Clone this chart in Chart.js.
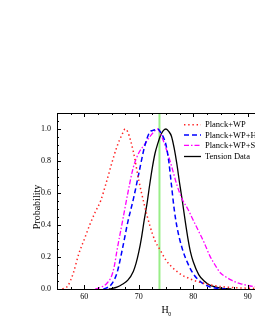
<!DOCTYPE html>
<html><head><meta charset="utf-8">
<script src="https://cdn.jsdelivr.net/npm/chart.js@4"></script>
<style>html,body{margin:0;padding:0;background:#fff;overflow:hidden}#wrap{width:255px;height:330px;overflow:hidden;position:relative}canvas{display:block}</style>
</head><body><div id="wrap"><canvas id="c" width="300" height="330"></canvas></div>
<script>
const seriesNames = ["Planck+WP", "Planck+WP+HST", "Planck+WP+SNLS", "Tension Data"];

const wpH0 = [56, 57, 58, 59, 60, 61, 62, 63, 64, 65, 66, 67, 67.5, 68, 69, 70, 71, 72, 73, 74, 75, 76, 77, 78, 79, 80, 82, 84, 86, 88, 90, 92, 95];
const wpP  = [0, 0.02, 0.1, 0.22, 0.31, 0.4, 0.48, 0.55, 0.66, 0.78, 0.89, 0.97, 1.0, 0.98, 0.86, 0.68, 0.53, 0.4, 0.3, 0.24, 0.18, 0.14, 0.11, 0.085, 0.07, 0.055, 0.035, 0.02, 0.012, 0.008, 0.005, 0.003, 0.001];

const hstH0 = [63.5, 64, 65, 66, 67, 68, 69, 70, 71, 72, 72.5, 73, 73.5, 74, 75, 75.5, 76, 76.5, 77, 78, 79, 80, 81, 82, 83, 84, 85, 86];
const hstP  = [0, 0.005, 0.03, 0.1, 0.25, 0.42, 0.56, 0.72, 0.88, 0.98, 0.99, 0.995, 1.0, 0.98, 0.9, 0.8, 0.65, 0.5, 0.39, 0.25, 0.16, 0.095, 0.055, 0.03, 0.014, 0.006, 0.002, 0];

const snH0 = [62, 63, 64, 65, 65.5, 66, 67, 68, 69, 70, 71, 72, 73, 73.5, 74, 75, 76, 77, 78, 79, 80, 81, 82, 83, 84, 85, 86, 87, 88, 89, 90, 91, 93, 95];
const snP  = [0, 0.01, 0.03, 0.08, 0.14, 0.24, 0.42, 0.6, 0.76, 0.85, 0.9, 0.95, 0.99, 1.0, 0.97, 0.88, 0.77, 0.65, 0.56, 0.5, 0.43, 0.36, 0.29, 0.21, 0.15, 0.1, 0.075, 0.055, 0.04, 0.03, 0.022, 0.016, 0.008, 0.004];

const tenH0 = [64.5, 65, 66, 67, 68, 69, 69.5, 70, 70.5, 71, 71.5, 72, 72.5, 73, 73.5, 74, 74.5, 75, 75.5, 76, 76.5, 77, 77.5, 78, 78.5, 79, 79.5, 80, 81, 82, 83, 84, 85, 86, 87];
const tenP  = [0, 0.003, 0.012, 0.03, 0.055, 0.11, 0.16, 0.23, 0.32, 0.43, 0.53, 0.65, 0.76, 0.85, 0.91, 0.96, 0.99, 1.0, 0.985, 0.955, 0.88, 0.78, 0.66, 0.55, 0.43, 0.32, 0.23, 0.17, 0.09, 0.05, 0.025, 0.013, 0.006, 0.002, 0];

const refLineH0 = [73.8];
const xTickLabels = [60, 70, 80, 90];
const yTickLabels = [0, 0.2, 0.4, 0.6, 0.8, 1.0];

const FONT = "'Liberation Serif', 'Times New Roman', serif";
const styles = [
  {color: '#ff2020', dash: [1.4, 2.8], width: 1.5},
  {color: '#0000ff', dash: [5, 3], width: 1.5},
  {color: '#ff00ff', dash: [5, 2, 1.5, 2], width: 1.3},
  {color: '#000000', dash: [], width: 1.3}
];
const xs = [wpH0, hstH0, snH0, tenH0];
const ys = [wpP, hstP, snP, tenP];

const datasets = seriesNames.map((n, i) => ({
  label: n,
  data: xs[i].map((x, j) => ({x: x, y: ys[i][j]})),
  borderColor: styles[i].color,
  borderDash: styles[i].dash,
  borderWidth: styles[i].width,
  pointRadius: 0,
  fill: false,
  tension: 0.4,
  cubicInterpolationMode: 'monotone'
}));

const framePlugin = {
  id: 'frame',
  beforeDatasetsDraw(chart) {
    const {ctx, chartArea: a, scales: {x}} = chart;
    ctx.save();
    ctx.strokeStyle = '#99ee88';
    ctx.lineWidth = 2;
    refLineH0.forEach(v => {
      const px = x.getPixelForValue(v);
      ctx.beginPath(); ctx.moveTo(px, a.top); ctx.lineTo(px, a.bottom); ctx.stroke();
    });
    ctx.restore();
  },
  afterDraw(chart) {
    const {ctx, chartArea: a, scales: {x, y}} = chart;
    ctx.save();
    ctx.strokeStyle = '#000';
    ctx.lineWidth = 1;
    ctx.strokeRect(Math.round(a.left) + 0.5, Math.round(a.top) + 0.5, Math.round(a.right - a.left), Math.round(a.bottom - a.top));
    ctx.beginPath();
    for (let v = x.min; v <= x.max + 1e-9; v += 2.5) {
      const major = xTickLabels.includes(Math.round(v * 10) / 10);
      const L = major ? 4 : 2;
      const px = Math.round(x.getPixelForValue(v)) + 0.5;
      ctx.moveTo(px, a.bottom); ctx.lineTo(px, a.bottom - L);
      ctx.moveTo(px, a.top); ctx.lineTo(px, a.top + L);
    }
    for (let v = 0; v <= y.max + 1e-9; v += 0.05) {
      const r = Math.round(v * 100) / 100;
      const major = yTickLabels.some(t => Math.abs(t - r) < 1e-6);
      const L = major ? 4 : 2;
      const py = Math.round(y.getPixelForValue(r)) + 0.5;
      ctx.moveTo(a.left, py); ctx.lineTo(a.left + L, py);
      ctx.moveTo(a.right, py); ctx.lineTo(a.right - L, py);
    }
    ctx.stroke();

    // axis titles
    ctx.fillStyle = '#000';
    ctx.font = '10px ' + FONT;
    ctx.textAlign = 'center';
    ctx.textBaseline = 'middle';
    ctx.fillText('H', 165, 310.5);
    ctx.font = '6px ' + FONT;
    ctx.fillText('0', 169.8, 314);
    ctx.save();
    ctx.translate(37, 207);
    ctx.rotate(-Math.PI / 2);
    ctx.font = '10px ' + FONT;
    ctx.fillText('Probability', 0, 0);
    ctx.restore();

    // legend
    ctx.font = '8.5px ' + FONT;
    ctx.textAlign = 'left';
    const rows = [124.7, 134.9, 145.3, 156.5];
    seriesNames.forEach((n, i) => {
      ctx.save();
      ctx.strokeStyle = styles[i].color;
      ctx.lineWidth = styles[i].width;
      ctx.setLineDash(styles[i].dash);
      ctx.beginPath(); ctx.moveTo(184, rows[i]); ctx.lineTo(201, rows[i]); ctx.stroke();
      ctx.restore();
      ctx.fillText(n, 205, rows[i] + 0.5);
    });
    ctx.restore();
  }
};

new Chart(document.getElementById('c'), {
  type: 'line',
  data: {datasets},
  options: {
    responsive: false,
    animation: false,
    devicePixelRatio: 1,
    layout: {padding: {left: 0, top: 113, right: 25, bottom: 0}},
    plugins: {legend: {display: false}, tooltip: {enabled: false}},
    scales: {
      x: {
        type: 'linear', min: 55, max: 95,
        grid: {display: false, drawTicks: false},
        border: {display: false},
        afterBuildTicks: s => { s.ticks = xTickLabels.map(v => ({value: v})); },
        afterFit: s => { s.height = 41; },
        ticks: {color: '#000', padding: 3, maxRotation: 0, font: {family: FONT, size: 8}, callback: v => String(v)}
      },
      y: {
        type: 'linear', min: 0, max: 1.1,
        grid: {display: false, drawTicks: false},
        border: {display: false},
        afterBuildTicks: s => { s.ticks = yTickLabels.map(v => ({value: v})); },
        afterFit: s => { s.width = 57; },
        ticks: {color: '#000', padding: 6, font: {family: FONT, size: 8}, callback: v => Number(v).toFixed(1)}
      }
    }
  },
  plugins: [framePlugin]
});
</script>
</body></html>
